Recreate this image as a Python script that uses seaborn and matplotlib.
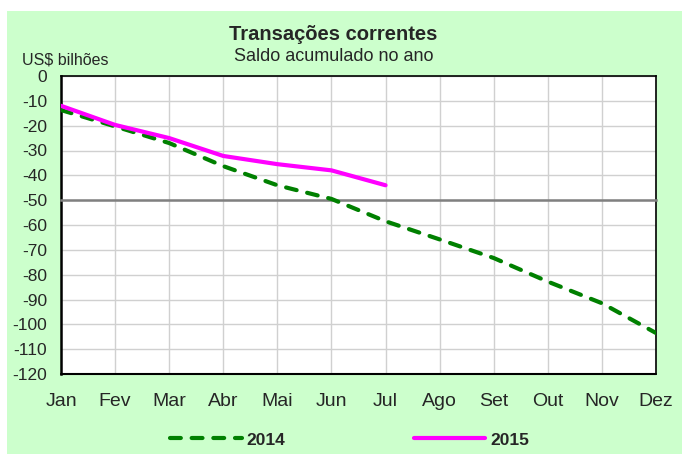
import numpy as np
import pandas as pd
import matplotlib
matplotlib.use("Agg")
import matplotlib.pyplot as plt
import seaborn as sns
from matplotlib.patches import Rectangle

# data
months = ["Jan", "Fev", "Mar", "Abr", "Mai", "Jun", "Jul", "Ago", "Set", "Out", "Nov", "Dez"]
saldo_2014 = [-13.7, -20.3, -27.0, -36.3, -44.0, -49.5, -58.5, -65.8, -73.3, -82.8, -91.5, -103.5]
saldo_2015 = [-12.0, -19.7, -25.0, -32.2, -35.5, -38.0, -44.0]
y_ticks = list(range(-120, 1, 10))

sns.set_style("white")
plt.rcParams["font.family"] = ["Liberation Sans", "DejaVu Sans"]

df14 = pd.DataFrame({"mes": np.arange(len(saldo_2014)), "valor": saldo_2014})
df15 = pd.DataFrame({"mes": np.arange(len(saldo_2015)), "valor": saldo_2015})

fig = plt.figure(figsize=(6.82, 4.54), dpi=100, facecolor="white")
# green chart area box
fig.patches.append(Rectangle((7 / 682, 0), 1 - 7 / 682, 1 - 11 / 454,
                             transform=fig.transFigure, facecolor="#CCFFCC",
                             edgecolor="none", zorder=-10))

ax = fig.add_axes([61 / 682, 1 - 374 / 454, (656 - 61) / 682, (374 - 76) / 454])
ax.set_facecolor("white")

sns.lineplot(data=df14, x="mes", y="valor", ax=ax, color="#008000", lw=3.0,
             label="2014", zorder=3)
ax.lines[-1].set_dashes([2.6, 2.6])
ax.lines[-1].set_dash_capstyle("round")
sns.lineplot(data=df15, x="mes", y="valor", ax=ax, color="#FF00FF", lw=3.0,
             label="2015", zorder=4)
ax.lines[-1].set_solid_capstyle("round")

ax.set_xlim(0, len(months) - 1)
ax.set_ylim(-120, 0)
ax.set_yticks(y_ticks)
ax.set_yticklabels([str(v) for v in y_ticks], fontsize=12.5)
ax.set_xticks(range(len(months)))
ax.grid(True, color="#D0D0D0", lw=1)
ax.set_xlabel("")
ax.set_ylabel("")

# axis line at -50 with gray tick marks
for s in ["top", "right", "left"]:
    ax.spines[s].set_visible(True)
    ax.spines[s].set_color("black")
    ax.spines[s].set_linewidth(1.2)
ax.spines["left"].set_linewidth(1.8)
ax.spines["bottom"].set_position(("data", -50))
ax.spines["bottom"].set_color("#808080")
ax.spines["bottom"].set_linewidth(1.8)
ax.tick_params(axis="x", direction="out", length=4, color="#808080", width=1.5,
               labelbottom=False)
ax.tick_params(axis="y", direction="out", length=4, color="black", width=1.5, pad=6)
ax.axhline(-120, color="black", lw=1.5, zorder=5, clip_on=False)

sec = ax.secondary_xaxis("bottom")
sec.set_xticks(range(len(months)))
sec.set_xticklabels(months, fontsize=14)
sec.tick_params(length=0, pad=14)
sec.spines["bottom"].set_visible(False)

fig.text(0.488, 0.925, "Transações correntes", ha="center", va="center",
         fontsize=14.5, fontweight="bold")
fig.text(0.49, 0.876, "Saldo acumulado no ano", ha="center", va="center", fontsize=13)
fig.text(0.032, 0.868, "US$ bilhões", ha="left", va="center", fontsize=11.5)

ax.get_legend().remove()
h, l = ax.get_legend_handles_labels()
fig.legend(h, l, loc="center", bbox_to_anchor=(0.513, 0.031), ncol=2, frameon=False,
           handlelength=4.1, columnspacing=7.4, handletextpad=0.3,
           prop={"weight": "bold", "size": 12.5})

fig.savefig("out.png", dpi=100, facecolor="white")
